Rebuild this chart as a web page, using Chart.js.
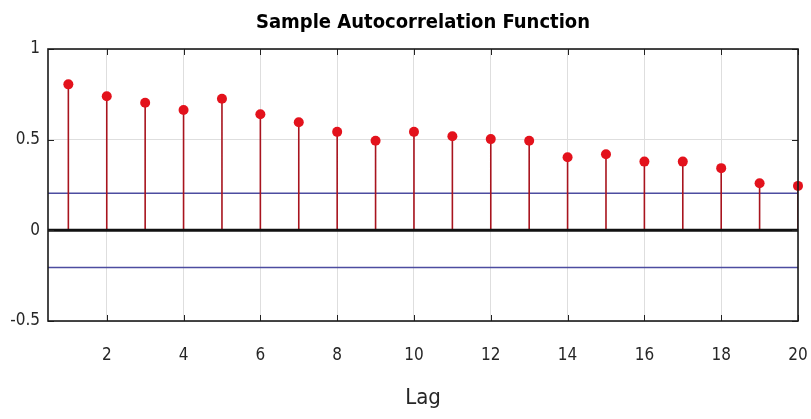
<!DOCTYPE html>
<html>
<head>
<meta charset="utf-8">
<script src="https://cdn.jsdelivr.net/npm/chart.js@4/dist/chart.umd.min.js"></script>
<style>
  html, body { margin: 0; padding: 0; background: #fff; }
  #wrap { width: 811px; height: 419px; }
</style>
</head>
<body>
<div id="wrap"><canvas id="c" width="811" height="419"></canvas></div>
<script>
// Sample autocorrelation, lags 1..20
const lags = [1, 2, 3, 4, 5, 6, 7, 8, 9, 10, 11, 12, 13, 14, 15, 16, 17, 18, 19, 20];
const acf = [0.805, 0.739, 0.704, 0.664, 0.726, 0.640, 0.596, 0.543, 0.494, 0.543,
             0.519, 0.503, 0.494, 0.403, 0.420, 0.379, 0.379, 0.343, 0.260, 0.245];
// approximate 95% confidence bounds
const confBounds = [0.205, -0.205];
const xTicks = [2, 4, 6, 8, 10, 12, 14, 16, 18, 20];
const yTicks = [-0.5, 0, 0.5, 1];
const xRange = [0.47, 20];
const yRange = [-0.5, 1];

const FONT = "'Liberation Sans Narrow', 'Arial Narrow', 'DejaVu Sans Condensed', sans-serif";

// vertical stems: segments from 0 to each value, separated by gaps
const stemPoints = lags.flatMap((l, i) => [{x: l, y: 0}, {x: l, y: acf[i]}, {x: l, y: null}]);

const hLine = v => [{x: xRange[0], y: v}, {x: xRange[1], y: v}];

// frame around the plot area plus MATLAB-style inward tick marks
const framePlugin = {
  id: 'frame',
  afterDatasetsDraw(chart) {
    const {ctx, chartArea: a, scales: {x, y}} = chart;
    ctx.save();
    ctx.strokeStyle = '#222';
    ctx.lineWidth = 1;
    ctx.beginPath();
    xTicks.forEach(t => {
      const px = Math.round(x.getPixelForValue(t)) + 0.5;
      ctx.moveTo(px, a.bottom); ctx.lineTo(px, a.bottom - 6);
      ctx.moveTo(px, a.top); ctx.lineTo(px, a.top + 6);
    });
    yTicks.forEach(t => {
      const py = Math.round(y.getPixelForValue(t)) + 0.5;
      ctx.moveTo(a.left, py); ctx.lineTo(a.left + 6, py);
      ctx.moveTo(a.right, py); ctx.lineTo(a.right - 6, py);
    });
    ctx.stroke();
    ctx.lineWidth = 1.6;
    ctx.strokeStyle = '#1a1a1a';
    ctx.strokeRect(a.left, a.top, a.right - a.left, a.bottom - a.top);
    ctx.restore();
  }
};

new Chart(document.getElementById('c'), {
  type: 'scatter',
  data: {
    datasets: [
      {
        type: 'line',
        label: 'Upper bound',
        data: hLine(confBounds[0]),
        borderColor: '#4c4ca0',
        borderWidth: 1.5,
        pointRadius: 0,
        order: 5
      },
      {
        type: 'line',
        label: 'Lower bound',
        data: hLine(confBounds[1]),
        borderColor: '#4c4ca0',
        borderWidth: 1.5,
        pointRadius: 0,
        order: 5
      },
      {
        type: 'line',
        label: 'Stems',
        data: stemPoints,
        borderColor: '#a8141e',
        borderWidth: 1.6,
        pointRadius: 0,
        spanGaps: false,
        order: 4
      },
      {
        type: 'line',
        label: 'Zero',
        data: hLine(0),
        borderColor: '#111',
        borderWidth: 3,
        pointRadius: 0,
        order: 3
      },
      {
        label: 'ACF',
        data: lags.map((l, i) => ({x: l, y: acf[i]})),
        backgroundColor: '#e3121c',
        borderColor: '#e3121c',
        borderWidth: 0,
        pointRadius: 5,
        clip: false,
        order: 1
      }
    ]
  },
  options: {
    responsive: false,
    animation: false,
    layout: { padding: { left: 0, right: 13, top: 0, bottom: 0 } },
    plugins: {
      legend: { display: false },
      tooltip: { enabled: false },
      title: {
        display: true,
        fullSize: false,
        text: 'Sample Autocorrelation Function',
        color: '#000',
        font: { family: FONT, size: 20, weight: 'bold', lineHeight: 1.2 },
        padding: { top: 11, bottom: 14 }
      }
    },
    scales: {
      x: {
        type: 'linear',
        min: xRange[0],
        max: xRange[1],
        afterBuildTicks: s => { s.ticks = xTicks.map(v => ({value: v})); },
        afterFit: s => { s.height = 98; s.paddingLeft = 0; s.paddingRight = 0; },
        grid: { color: '#dedede', lineWidth: 1, drawTicks: false },
        border: { display: false },
        ticks: {
          color: '#262626',
          padding: 24,
          maxRotation: 0,
          font: { family: FONT, size: 17 },
          callback: v => String(v)
        },
        title: {
          display: true,
          text: 'Lag',
          color: '#262626',
          font: { family: FONT, size: 22 },
          padding: { top: 0, bottom: 8 }
        }
      },
      y: {
        type: 'linear',
        min: yRange[0],
        max: yRange[1],
        afterBuildTicks: s => { s.ticks = yTicks.map(v => ({value: v})); },
        afterFit: s => { s.width = 48; s.paddingTop = 0; s.paddingBottom = 0; },
        grid: { color: '#dedede', lineWidth: 1, drawTicks: false },
        border: { display: false },
        ticks: {
          color: '#262626',
          padding: 8,
          font: { family: FONT, size: 17 },
          callback: v => String(v)
        }
      }
    }
  },
  plugins: [framePlugin]
});
</script>
</body>
</html>
